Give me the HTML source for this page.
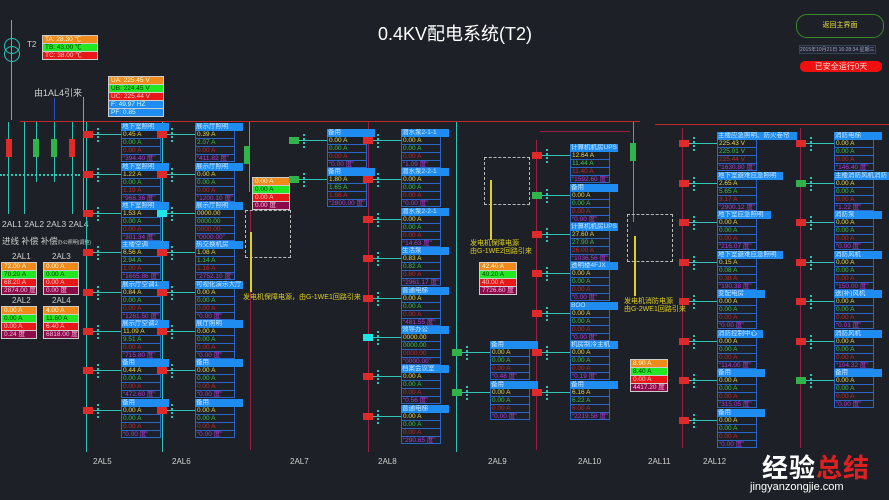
<!DOCTYPE html>
<html><head><meta charset="utf-8"><style>
body{margin:0;width:889px;height:500px;background:#1d2127;position:relative;overflow:hidden;font-family:"Liberation Sans","Noto Sans CJK SC",sans-serif}
.a{position:absolute;white-space:nowrap}
.b{position:absolute;width:40px;font-size:6.5px;line-height:7.9px}
.b>*{display:block;height:7.9px;box-sizing:border-box;border:1px solid #2a66c8;border-top:0;padding-left:1px;white-space:nowrap;overflow:hidden;text-decoration:none;font-style:normal;font-weight:normal;background:#1d2127}
.b>i{background:#1e8cf0;color:#cfe6ff;border:0;width:48px}
.b>i::after{content:"";position:absolute;left:-24px;top:5px;height:14px;border-left:2px dotted #2ec4b6}
.b>u{color:#e8d84a}.b>s{color:#3fc34a}.b>b{color:#c0282c}.b>q{color:#b23ad8}
.b::before{content:"";position:absolute;left:-34px;top:11px;width:34px;height:1px;background:#2ec4b6}
.b::after{content:"";position:absolute;left:-38px;top:8px;width:10px;height:7px;background:#e02a2a}
.b.g::after{background:#2fb34a}.b.c::after{background:#1fe6e6}
.t{position:absolute;font-size:6.5px;line-height:7px;width:56px}
.t div{height:7px;padding-left:2px;border:1px solid #ccc;border-top:0;box-sizing:content-box;white-space:nowrap;overflow:hidden}
.o{background:#f08a1a;color:#ffd}.gr{background:#22e822;color:#030}.r{background:#e81818;color:#fcc}.m{background:#8a0a4a;color:#fbd}.bl{background:#1e8cf0;color:#dff}
.lbl{position:absolute;color:#cfcfcf;font-size:8px;white-space:nowrap}
.vl{position:absolute;width:1px}
</style></head><body>
<div class="a" style="left:378px;top:20px;color:#fff;font-size:18px">0.4KV配电系统(T2)</div>
<div class="a" style="left:796px;top:14px;width:86px;height:22px;border:1px solid #3a8a2a;border-radius:11px;color:#e8e040;font-size:7px;text-align:center;line-height:22px">返回主界面</div>
<div class="a" style="left:799px;top:45px;color:#9ab;font-size:5px;background:#223;border:1px solid #345">2015年10月21日 16:28:34 星期三</div>
<div class="a" style="left:800px;top:61px;width:82px;height:11px;background:#f01010;border-radius:5px;color:#fdd;font-size:8px;text-align:center;line-height:11px">已安全运行0天</div>

<div class="a" style="left:20px;top:121px;width:620px;height:1px;background:#c02828"></div>
<div class="a" style="left:655px;top:124px;width:234px;height:1px;background:#c02828"></div>
<div class="a" style="left:4px;top:38px;width:14px;height:14px;border:1px solid #2ec4b6;border-radius:50%"></div>
<div class="a" style="left:4px;top:46px;width:14px;height:14px;border:1px solid #2ec4b6;border-radius:50%"></div>
<div class="vl" style="left:11px;top:20px;height:100px;background:#2ec4b6"></div>
<div class="lbl" style="left:27px;top:40px">T2</div>
<div class="t" style="left:42px;top:35px"><div class="o" style="border-top:1px solid #ccc">TA: 28.30 ℃</div><div class="gr">TB: 43.00 ℃</div><div class="r">TC: 38.00 ℃</div></div>
<div class="t" style="left:108px;top:76px"><div class="o" style="border-top:1px solid #ccc">UA: 225.45 V</div><div class="gr">UB: 224.45 V</div><div class="r">UC: 225.44 V</div><div class="bl">F: 49.97 HZ</div><div class="bl">PF: 0.85</div></div>
<div class="lbl" style="left:34px;top:86px;font-size:9px">由1AL4引来</div>
<div class="vl" style="left:54px;top:98px;height:22px;background:#3050c0"></div>
<div class="vl" style="left:83px;top:97px;height:115px;background:#2ec4b6"></div>
<div class="vl" style="left:8px;top:122px;height:92px;background:#2ec4b6"></div>
<div class="vl" style="left:24px;top:122px;height:92px;background:#2ec4b6"></div>
<div class="vl" style="left:36px;top:122px;height:60px;background:#2ec4b6"></div>
<div class="vl" style="left:54px;top:122px;height:60px;background:#2ec4b6"></div>
<div class="vl" style="left:72px;top:122px;height:92px;background:#2ec4b6"></div>
<div class="a" style="left:6px;top:139px;width:6px;height:18px;background:#e02a2a"></div>
<div class="a" style="left:33px;top:139px;width:6px;height:18px;background:#2fb34a"></div>
<div class="a" style="left:51px;top:139px;width:6px;height:18px;background:#2fb34a"></div>
<div class="a" style="left:69px;top:139px;width:6px;height:18px;background:#e02a2a"></div>
<div class="a" style="left:0;top:174px;width:80px;border-top:2px dotted #2ec4b6"></div>
<div class="lbl" style="left:2px;top:219px;font-size:8.5px">2AL1 2AL2 2AL3 2AL4</div>
<div class="lbl" style="left:2px;top:235px;font-size:8.5px">进线 补偿 补偿<span style="font-size:5px">办公照明(调整)</span></div>
<div class="lbl" style="left:12px;top:252px">2AL1</div><div class="lbl" style="left:52px;top:252px">2AL3</div>
<div class="lbl" style="left:12px;top:296px">2AL2</div><div class="lbl" style="left:52px;top:296px">2AL4</div>
<div class="t" style="left:1px;top:262px;width:36px"><div class="o" style="border-top:1px solid #ccc">72.00 A</div><div class="gr">70.20 A</div><div class="r">68.20 A</div><div class="m">2874.00 度</div></div>
<div class="t" style="left:43px;top:262px;width:36px"><div class="o" style="border-top:1px solid #ccc">0.00 A</div><div class="gr">0.00 A</div><div class="r">0.00 A</div><div class="m">0.00 度</div></div>
<div class="t" style="left:1px;top:306px;width:36px"><div class="o" style="border-top:1px solid #ccc">0.00 A</div><div class="gr">0.00 A</div><div class="r">0.00 A</div><div class="m">0.24 度</div></div>
<div class="t" style="left:43px;top:306px;width:36px"><div class="o" style="border-top:1px solid #ccc">4.00 A</div><div class="gr">11.60 A</div><div class="r">6.40 A</div><div class="m">6818.00 度</div></div>

<div class="vl" style="left:86px;top:122px;height:330px;background:#2ec4b6"></div>
<div class="vl" style="left:162px;top:122px;height:330px;background:#2ec4b6"></div>
<div class="vl" style="left:249px;top:122px;height:70px;background:#888"></div>
<div class="vl" style="left:250px;top:210px;height:240px;background:#9a2040"></div>
<div class="vl" style="left:368px;top:122px;height:330px;background:#9a2040"></div>
<div class="vl" style="left:456px;top:122px;height:330px;background:#2ec4b6"></div>
<div class="vl" style="left:536px;top:140px;height:310px;background:#9a2040"></div>
<div class="vl" style="left:633px;top:122px;height:100px;background:#888"></div>
<div class="vl" style="left:682px;top:128px;height:320px;background:#9a2040"></div>
<div class="vl" style="left:800px;top:128px;height:320px;background:#9a2040"></div>
<div class="vl" style="left:540px;top:131px;height:1px;width:90px;background:#9a2040"></div>

<div class="a" style="left:244px;top:146px;width:6px;height:18px;background:#2fb34a"></div>
<div class="a" style="left:245px;top:210px;width:44px;height:46px;border:1px dashed #bbb"></div>
<div class="vl" style="left:250px;top:232px;height:60px;width:2px;background:#e0d020"></div>
<div class="lbl" style="left:243px;top:292px;color:#e0d020;font-size:7px">发电机保障电源，由G-1WE1回路引来</div>
<div class="t" style="left:252px;top:177px;width:38px"><div class="o" style="border-top:1px solid #ccc">0.00 A</div><div class="gr">0.00 A</div><div class="r">0.00 A</div><div class="m">0.00 度</div></div>
<div class="a" style="left:484px;top:157px;width:44px;height:46px;border:1px dashed #bbb"></div>
<div class="vl" style="left:490px;top:180px;height:60px;width:2px;background:#e0d020"></div>
<div class="lbl" style="left:470px;top:240px;color:#e0d020;font-size:7px;line-height:8px">发电机保障电源<br>由G-1WE2回路引来</div>
<div class="t" style="left:479px;top:262px;width:38px"><div class="o" style="border-top:1px solid #ccc">42.40 A</div><div class="gr">40.20 A</div><div class="r">40.00 A</div><div class="m">7726.60 度</div></div>
<div class="a" style="left:630px;top:143px;width:6px;height:18px;background:#2fb34a"></div>
<div class="a" style="left:627px;top:214px;width:44px;height:46px;border:1px dashed #bbb"></div>
<div class="vl" style="left:634px;top:236px;height:60px;width:2px;background:#e0d020"></div>
<div class="lbl" style="left:624px;top:298px;color:#e0d020;font-size:7px;line-height:8px">发电机消防电源<br>由G-2WE1回路引来</div>
<div class="t" style="left:630px;top:359px;width:38px"><div class="o" style="border-top:1px solid #ccc">8.90 A</div><div class="gr">8.40 A</div><div class="r">0.00 A</div><div class="m">4417.20 度</div></div>

<div class="b" style="left:121px;top:123px"><i>地下室照明</i><u>0.45 A</u><s>0.00 A</s><b>0.00 A</b><q>394.40 度</q></div>
<div class="b" style="left:121px;top:163px"><i>地下室照明</i><u>1.22 A</u><s>0.00 A</s><b>1.19 A</b><q>968.36 度</q></div>
<div class="b" style="left:121px;top:202px"><i>地下室照明</i><u>1.53 A</u><s>0.00 A</s><b>0.00 A</b><q>301.34 度</q></div>
<div class="b" style="left:121px;top:241px"><i>主楼空调</i><u>6.56 A</u><s>2.94 A</s><b>1.00 A</b><q>1665.86 度</q></div>
<div class="b" style="left:121px;top:281px"><i>展示厅空调1</i><u>0.84 A</u><s>0.00 A</s><b>0.00 A</b><q>1261.50 度</q></div>
<div class="b" style="left:121px;top:320px"><i>展示厅空调2</i><u>11.09 A</u><s>9.51 A</s><b>0.00 A</b><q>715.80 度</q></div>
<div class="b" style="left:121px;top:359px"><i>备用</i><u>0.44 A</u><s>0.00 A</s><b>0.00 A</b><q>472.60 度</q></div>
<div class="b" style="left:121px;top:399px"><i>备用</i><u>0.00 A</u><s>0.00 A</s><b>0.00 A</b><q>0.00 度</q></div>
<div class="b" style="left:195px;top:123px"><i>展示厅照明</i><u>0.39 A</u><s>2.07 A</s><b>0.00 A</b><q>411.82 度</q></div>
<div class="b" style="left:195px;top:163px"><i>展示厅照明</i><u>0.00 A</u><s>0.00 A</s><b>0.00 A</b><q>1200.10 度</q></div>
<div class="b c" style="left:195px;top:202px"><i>展示厅照明</i><u>0000.00</u><s>0000.00</s><b>0000.00</b><q>0000.00</q></div>
<div class="b" style="left:195px;top:241px"><i>热交换机房</i><u>1.08 A</u><s>1.14 A</s><b>1.16 A</b><q>2752.10 度</q></div>
<div class="b" style="left:195px;top:281px"><i>可视化演示大厅</i><u>0.00 A</u><s>0.00 A</s><b>0.00 A</b><q>0.00 度</q></div>
<div class="b" style="left:195px;top:320px"><i>展厅照明</i><u>0.00 A</u><s>0.00 A</s><b>0.00 A</b><q>0.00 度</q></div>
<div class="b" style="left:195px;top:359px"><i>备用</i><u>0.00 A</u><s>0.00 A</s><b>0.00 A</b><q>0.00 度</q></div>
<div class="b" style="left:195px;top:399px"><i>备用</i><u>0.00 A</u><s>0.00 A</s><b>0.00 A</b><q>0.00 度</q></div>
<div class="b g" style="left:327px;top:129px"><i>备用</i><u>0.00 A</u><s>0.00 A</s><b>0.00 A</b><q>0.00 度</q></div>
<div class="b g" style="left:327px;top:168px"><i>备用</i><u>1.80 A</u><s>1.65 A</s><b>1.66 A</b><q>2800.00 度</q></div>
<div class="b" style="left:401px;top:129px"><i>潜水泵2-1-1</i><u>0.00 A</u><s>0.00 A</s><b>0.00 A</b><q>1.09 度</q></div>
<div class="b" style="left:401px;top:168px"><i>潜水泵2-2-1</i><u>0.00 A</u><s>0.00 A</s><b>0.00 A</b><q>0.00 度</q></div>
<div class="b" style="left:401px;top:208px"><i>潜水泵2-2-1</i><u>0.00 A</u><s>0.00 A</s><b>0.00 A</b><q>14.63 度</q></div>
<div class="b" style="left:401px;top:247px"><i>生活泵</i><u>0.83 A</u><s>0.82 A</s><b>0.80 A</b><q>2961.17 度</q></div>
<div class="b" style="left:401px;top:287px"><i>普通电梯</i><u>0.00 A</u><s>0.00 A</s><b>0.00 A</b><q>481.55 度</q></div>
<div class="b c" style="left:401px;top:326px"><i>领导办公</i><u>0000.00</u><s>0000.00</s><b>0000.00</b><q>0000.00</q></div>
<div class="b" style="left:401px;top:365px"><i>档案会议室</i><u>0.00 A</u><s>0.00 A</s><b>0.00 A</b><q>0.56 度</q></div>
<div class="b" style="left:401px;top:405px"><i>普通电梯</i><u>0.00 A</u><s>0.00 A</s><b>0.00 A</b><q>290.65 度</q></div>
<div class="b g" style="left:490px;top:341px"><i>备用</i><u>0.00 A</u><s>0.00 A</s><b>0.00 A</b><q>0.48 度</q></div>
<div class="b g" style="left:490px;top:381px"><i>备用</i><u>0.00 A</u><s>0.00 A</s><b>0.00 A</b><q>0.00 度</q></div>
<div class="b" style="left:570px;top:144px"><i>计算机机房UPS</i><u>12.64 A</u><s>11.44 A</s><b>11.40 A</b><q>1592.60 度</q></div>
<div class="b g" style="left:570px;top:184px"><i>备用</i><u>0.00 A</u><s>0.00 A</s><b>0.00 A</b><q>0.00 度</q></div>
<div class="b" style="left:570px;top:223px"><i>计算机机房UPS</i><u>27.60 A</u><s>27.90 A</s><b>26.00 A</b><q>1036.56 度</q></div>
<div class="b" style="left:570px;top:262px"><i>透明楼4FJX</i><u>0.00 A</u><s>0.00 A</s><b>0.00 A</b><q>0.00 度</q></div>
<div class="b" style="left:570px;top:302px"><i>BOO</i><u>0.00 A</u><s>0.00 A</s><b>0.00 A</b><q>0.00 度</q></div>
<div class="b" style="left:570px;top:341px"><i>机房制冷主机</i><u>0.00 A</u><s>0.00 A</s><b>0.00 A</b><q>0.19 度</q></div>
<div class="b" style="left:570px;top:381px"><i>备用</i><u>6.16 A</u><s>6.22 A</s><b>6.00 A</b><q>2219.58 度</q></div>
<div class="b" style="left:717px;top:132px"><i style="width:80px">主楼应急照明、防火卷帘</i><u>225.43 V</u><s>225.01 V</s><b>225.44 V</b><q>1630.80 度</q></div>
<div class="b" style="left:717px;top:172px"><i style="width:66px">地下室避难应急照明</i><u>2.65 A</u><s>5.65 A</s><b>3.17 A</b><q>2900.12 度</q></div>
<div class="b" style="left:717px;top:211px"><i style="width:54px">地下室应急照明</i><u>0.00 A</u><s>0.00 A</s><b>0.00 A</b><q>216.07 度</q></div>
<div class="b" style="left:717px;top:251px"><i style="width:66px">地下室避难应急照明</i><u>0.15 A</u><s>0.08 A</s><b>0.38 A</b><q>190.38 度</q></div>
<div class="b" style="left:717px;top:290px"><i>变配电房</i><u>0.00 A</u><s>0.00 A</s><b>0.00 A</b><q>0.00 度</q></div>
<div class="b" style="left:717px;top:330px"><i style="width:46px">消防控制中心</i><u>0.00 A</u><s>0.00 A</s><b>0.00 A</b><q>114.00 度</q></div>
<div class="b" style="left:717px;top:369px"><i>备用</i><u>0.00 A</u><s>0.00 A</s><b>0.00 A</b><q>315.05 度</q></div>
<div class="b" style="left:717px;top:409px"><i>备用</i><u>0.00 A</u><s>0.00 A</s><b>0.00 A</b><q>0.00 度</q></div>
<div class="b" style="left:834px;top:132px"><i>消防电梯</i><u>0.00 A</u><s>0.00 A</s><b>0.00 A</b><q>146.40 度</q></div>
<div class="b g" style="left:834px;top:172px"><i style="width:56px">主楼消防风机消防</i><u>0.00 A</u><s>0.00 A</s><b>0.00 A</b><q>1.22 度</q></div>
<div class="b" style="left:834px;top:211px"><i>消防泵</i><u>0.00 A</u><s>0.00 A</s><b>0.00 A</b><q>0.00 度</q></div>
<div class="b" style="left:834px;top:251px"><i>消防风机</i><u>0.00 A</u><s>0.00 A</s><b>0.00 A</b><q>150.00 度</q></div>
<div class="b" style="left:834px;top:290px"><i>送(补)风机</i><u>0.00 A</u><s>0.00 A</s><b>0.00 A</b><q>0.01 度</q></div>
<div class="b" style="left:834px;top:330px"><i>消防风机</i><u>0.00 A</u><s>0.00 A</s><b>0.00 A</b><q>104.32 度</q></div>
<div class="b g" style="left:834px;top:369px"><i>备用</i><u>0.00 A</u><s>0.00 A</s><b>0.00 A</b><q>0.00 度</q></div>

<div class="lbl" style="left:93px;top:457px">2AL5</div>
<div class="lbl" style="left:172px;top:457px">2AL6</div>
<div class="lbl" style="left:290px;top:457px">2AL7</div>
<div class="lbl" style="left:378px;top:457px">2AL8</div>
<div class="lbl" style="left:488px;top:457px">2AL9</div>
<div class="lbl" style="left:578px;top:457px">2AL10</div>
<div class="lbl" style="left:648px;top:457px">2AL11</div>
<div class="lbl" style="left:703px;top:457px">2AL12</div>
<div class="a" style="left:762px;top:448px;color:#fff;font-size:26px;font-weight:bold;letter-spacing:1px">经验<span style="color:#e02020">总结</span></div>
<div class="a" style="left:750px;top:481px;color:#fff;font-size:11px">jingyanzongjie.com</div>
</body></html>
